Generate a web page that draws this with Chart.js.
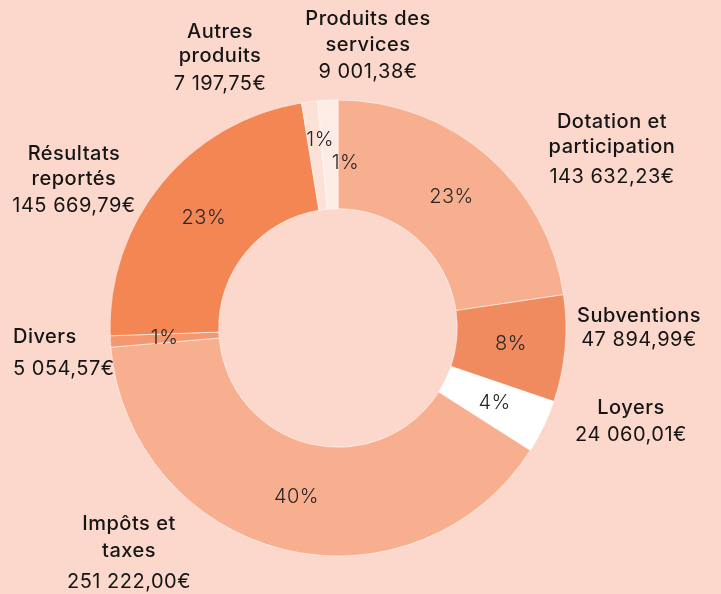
<!DOCTYPE html>
<html lang="fr">
<head>
<meta charset="utf-8">
<script src="https://cdn.jsdelivr.net/npm/chart.js@4.4.1/dist/chart.umd.min.js"></script>
<style>
  html, body { margin: 0; padding: 0; background: #fbd8cb; }
  #wrap { width: 721px; height: 594px; }
</style>
</head>
<body>
<div id="wrap"><canvas id="recettes" width="721" height="594"></canvas></div>
<script>
// ==================== DONNÉES ====================

// ordre horaire en partant du haut
const categories = [
    ['Dotation et', 'participation'],
    ['Subventions'],
    ['Loyers'],
    ['Impôts et', 'taxes'],
    ['Divers'],
    ['Résultats', 'reportés'],
    ['Autres', 'produits'],
    ['Produits des', 'services']
];
const montants = [143632.23, 47894.99, 24060.01, 251222.00, 5054.57, 145669.79, 7197.75, 9001.38];
const couleurs = ['#f8af8f', '#ef8b5e', '#ffffff', '#f8af8f', '#f4986f', '#f48654', '#fce1d7', '#fdece6'];

// placement des étiquettes extérieures : x du centre du texte, lignes de base, alignement
const etiquettes = [
    { x: 612, y: [128, 153, 183], align: 'center' },
    { x: 639, y: [322, 346], align: 'center' },
    { x: 631, y: [414, 441], align: 'center' },
    { x: 129, y: [530, 557, 588], align: 'center' },
    { x: 13,  y: [343, 375], align: 'left' },
    { x: 74,  y: [160, 185, 212], align: 'center' },
    { x: 220, y: [38, 62, 90], align: 'center' },
    { x: 368, y: [25, 51, 78], align: 'center' }
];

const POLICE = 'Inter, "Noto Sans", sans-serif';

/**
 * Format monétaire français : 143 632,23€
 */
function formatEuro(v) {
    const [ent, dec] = v.toFixed(2).split('.');
    return ent.replace(/\B(?=(\d{3})+(?!\d))/g, ' ') + ',' + dec + '€';
}

const total = montants.reduce((a, b) => a + b, 0);

// ==================== PLUGIN ÉTIQUETTES ====================

const etiquettesPlugin = {
    id: 'etiquettes',
    afterDatasetsDraw(chart) {
        const ctx = chart.ctx;
        const meta = chart.getDatasetMeta(0);
        ctx.save();

        // pourcentages dans l'anneau
        ctx.font = '300 20px ' + POLICE;
        ctx.letterSpacing = '0.5px';
        ctx.fillStyle = '#262626';
        ctx.textAlign = 'center';
        ctx.textBaseline = 'middle';
        meta.data.forEach((arc, i) => {
            const p = arc.getProps(['x', 'y', 'startAngle', 'endAngle', 'innerRadius', 'outerRadius'], true);
            let angle = (p.startAngle + p.endAngle) / 2;
            let r = (p.innerRadius + p.outerRadius) / 2;
            const part = montants[i] / total;
            const precPetit = i > 0 && montants[i - 1] / total < 0.02;
            const suivPetit = i < montants.length - 1 && montants[i + 1] / total < 0.02;
            // deux petites parts côte à côte : on décale pour éviter le chevauchement
            if (part < 0.02 && suivPetit) {
                r += 15;
                angle += 0.03;
            } else if (part < 0.02 && precPetit) {
                r -= 8;
                angle += 0.09;
            }
            const pct = Math.round(part * 100) + '%';
            ctx.fillText(pct, p.x + Math.cos(angle) * r, p.y + Math.sin(angle) * r);
        });

        // noms et montants autour
        ctx.fillStyle = '#151515';
        ctx.textBaseline = 'alphabetic';
        categories.forEach((lignes, i) => {
            const e = etiquettes[i];
            ctx.textAlign = e.align;
            ctx.font = '500 20px ' + POLICE;
            lignes.forEach((t, k) => ctx.fillText(t, e.x, e.y[k]));
            ctx.font = '400 20px ' + POLICE;
            ctx.fillText(formatEuro(montants[i]), e.x, e.y[lignes.length]);
        });

        ctx.restore();
    }
};

// ==================== GRAPHIQUE ====================

new Chart(document.getElementById('recettes'), {
    type: 'doughnut',
    data: {
        labels: categories.map(c => c.join(' ')),
        datasets: [{
            data: montants,
            backgroundColor: couleurs,
            borderColor: 'rgba(255, 255, 255, 0.55)',
            borderWidth: 1,
            radius: 228,
            cutout: 119
        }]
    },
    options: {
        responsive: false,
        animation: false,
        rotation: 0,
        layout: {
            padding: { top: 100, bottom: 38, left: 110, right: 155 }
        },
        plugins: {
            legend: { display: false },
            tooltip: { enabled: false }
        }
    },
    plugins: [etiquettesPlugin]
});
</script>
</body>
</html>
